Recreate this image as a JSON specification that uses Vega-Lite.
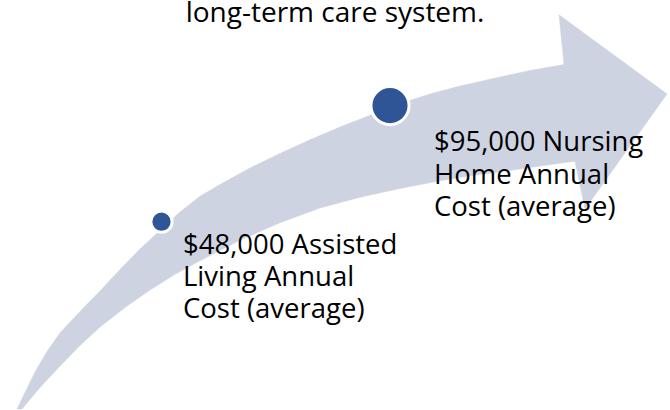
{
  "$schema": "https://vega.github.io/schema/vega-lite/v6.json",
  "width": 670,
  "height": 410,
  "padding": 0,
  "autosize": {"type": "fit", "contains": "padding"},
  "background": "white",
  "config": {"view": {"stroke": null}},
  "datasets": {
    "arrow": [
      {"i": 1, "x": 17, "y": 410}, {"i": 2, "x": 25, "y": 393}, {"i": 3, "x": 35, "y": 372},
      {"i": 4, "x": 47, "y": 351}, {"i": 5, "x": 60, "y": 332}, {"i": 6, "x": 80, "y": 310},
      {"i": 7, "x": 100, "y": 289}, {"i": 8, "x": 120, "y": 267}, {"i": 9, "x": 140, "y": 246},
      {"i": 10, "x": 160, "y": 227}, {"i": 11, "x": 180, "y": 208}, {"i": 12, "x": 200, "y": 192},
      {"i": 13, "x": 220, "y": 180}, {"i": 14, "x": 250, "y": 163}, {"i": 15, "x": 280, "y": 148},
      {"i": 16, "x": 310, "y": 134}, {"i": 17, "x": 340, "y": 121}, {"i": 18, "x": 370, "y": 109},
      {"i": 19, "x": 400, "y": 97}, {"i": 20, "x": 430, "y": 87}, {"i": 21, "x": 460, "y": 79},
      {"i": 22, "x": 490, "y": 72}, {"i": 23, "x": 530, "y": 63}, {"i": 24, "x": 564, "y": 57},
      {"i": 25, "x": 559, "y": 6}, {"i": 26, "x": 667, "y": 87}, {"i": 27, "x": 585, "y": 205},
      {"i": 28, "x": 575, "y": 156}, {"i": 29, "x": 540, "y": 161}, {"i": 30, "x": 500, "y": 167},
      {"i": 31, "x": 470, "y": 171}, {"i": 32, "x": 440, "y": 176}, {"i": 33, "x": 400, "y": 184},
      {"i": 34, "x": 360, "y": 193}, {"i": 35, "x": 320, "y": 204}, {"i": 36, "x": 280, "y": 219},
      {"i": 37, "x": 240, "y": 237}, {"i": 38, "x": 200, "y": 258}, {"i": 39, "x": 175, "y": 272},
      {"i": 40, "x": 150, "y": 288}, {"i": 41, "x": 125, "y": 306}, {"i": 42, "x": 100, "y": 326},
      {"i": 43, "x": 80, "y": 345}, {"i": 44, "x": 60, "y": 366}, {"i": 45, "x": 40, "y": 388},
      {"i": 46, "x": 22, "y": 410}
    ],
    "dots": [
      {"name": "Assisted Living", "cost": 48000, "x": 161.5, "y": 218, "r": 452},
      {"name": "Nursing Home", "cost": 95000, "x": 390, "y": 99, "r": 1452}
    ],
    "labels": [
      {"text": "$48,000 Assisted", "x": 183, "y": 251},
      {"text": "Living Annual", "x": 183, "y": 284},
      {"text": "Cost (average)", "x": 183, "y": 317},
      {"text": "$95,000 Nursing", "x": 434, "y": 146},
      {"text": "Home Annual", "x": 434, "y": 179},
      {"text": "Cost (average)", "x": 434, "y": 212}
    ],
    "title": [
      {"text": "long-term care system.", "x": 335, "y": 13}
    ]
  },
  "layer": [
    {
      "data": {"name": "arrow"},
      "mark": {"type": "line", "interpolate": "linear-closed", "fill": "#CED3E1", "stroke": "#CED3E1", "strokeWidth": 0.5, "filled": true},
      "encoding": {
        "x": {"field": "x", "type": "quantitative", "scale": {"domain": [0, 670], "nice": false, "zero": false}, "axis": null},
        "y": {"field": "y", "type": "quantitative", "scale": {"domain": [0, 410], "nice": false, "zero": false, "reverse": true}, "axis": null},
        "order": {"field": "i", "type": "quantitative"}
      }
    },
    {
      "data": {"name": "dots"},
      "mark": {"type": "circle", "fill": "#2F5597", "opacity": 1, "stroke": "white", "strokeWidth": 3},
      "encoding": {
        "x": {"field": "x", "type": "quantitative"},
        "y": {"field": "y", "type": "quantitative"},
        "size": {"field": "r", "type": "quantitative", "scale": null, "legend": null}
      }
    },
    {
      "data": {"name": "labels"},
      "mark": {"type": "text", "align": "left", "baseline": "alphabetic", "font": "Open Sans", "fontSize": 27.5, "color": "#000000"},
      "encoding": {
        "x": {"field": "x", "type": "quantitative"},
        "y": {"field": "y", "type": "quantitative"},
        "text": {"field": "text"}
      }
    },
    {
      "data": {"name": "title"},
      "mark": {"type": "text", "align": "center", "baseline": "alphabetic", "font": "Open Sans", "fontSize": 28, "color": "#000000"},
      "encoding": {
        "x": {"field": "x", "type": "quantitative"},
        "y": {"field": "y", "type": "quantitative"},
        "text": {"field": "text"}
      }
    }
  ]
}
